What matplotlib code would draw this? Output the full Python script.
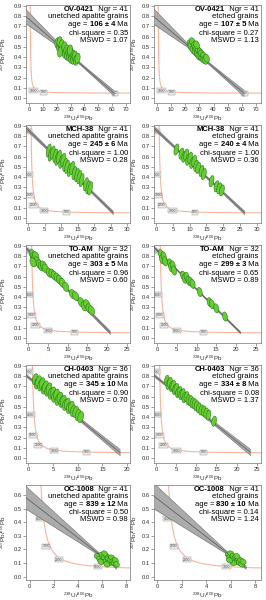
import numpy as np
import matplotlib
matplotlib.use("Agg")
import matplotlib.pyplot as plt
from matplotlib.ticker import FormatStrFormatter

plt.rcParams['font.family'] = ['Liberation Sans', 'DejaVu Sans']
plt.rcParams['mathtext.fontset'] = 'custom'
plt.rcParams['mathtext.rm'] = 'Liberation Sans'

# panel order: row by row, left = unetched, right = etched
samples = ['OV-0421', 'OV-0421', 'MCH-38', 'MCH-38', 'TO-AM', 'TO-AM',
           'CH-0403', 'CH-0403', 'OC-1008', 'OC-1008']
n_grains = [41, 41, 41, 41, 32, 32, 36, 36, 41, 41]
treatment = ['unetched apatite grains', 'etched grains'] * 5
ages = ['106 ± 4', '107 ± 5', '245 ± 6', '240 ± 4', '303 ± 5', '299 ± 3',
        '345 ± 10', '334 ± 8', '839 ± 12', '830 ± 10']
chi_square = ['0.35', '0.27', '1.00', '1.00', '0.96', '0.65', '0.90', '0.08', '0.50', '0.14']
mswd = ['1.07', '1.13', '0.28', '0.36', '0.60', '0.89', '0.70', '1.37', '0.98', '1.24']

# regression line: common Pb intercept at x=0 and lower end on the concordia
common_pb = [0.77, 0.77, 0.86, 0.86, 0.86, 0.86, 0.79, 0.79, 0.56, 0.575]
end_x = [61.5, 61.5, 25.8, 26.4, 20.8, 21.1, 18.6, 23.5, 7.2, 7.25]
end_y = [0.046, 0.046, 0.051, 0.051, 0.052, 0.052, 0.053, 0.055, 0.067, 0.066]
# confidence band half widths: at x=0, narrowest (at band_xc), at lower end
band_hw0 = [0.065, 0.07, 0.018, 0.016, 0.012, 0.008, 0.012, 0.012, 0.08, 0.09]
band_hmin = [0.008, 0.008, 0.012, 0.01, 0.01, 0.006, 0.01, 0.01, 0.005, 0.005]
band_xc = [28, 29, 12, 12, 6, 6, 5, 6, 6.3, 6.3]
band_hw1 = [0.025, 0.03, 0.016, 0.016, 0.016, 0.01, 0.03, 0.03, 0.012, 0.012]

# grain error ellipses (centres)
ell_x = [
    [20.5, 21.5, 22.0, 23.0, 23.5, 24.5, 22.5, 25.5, 26.0, 27.0, 27.5, 28.5, 29.0, 30.0, 30.5,
     31.5, 32.0, 33.0, 34.0, 35.0, 29.5],
    [23.5, 24.0, 25.0, 25.5, 26.5, 27.0, 27.5, 28.5, 29.0, 29.5, 30.5, 31.0, 31.5, 32.5, 33.0,
     34.0, 35.0, 28.0],
    [6.2, 6.8, 7.4, 8.2, 8.8, 9.3, 10.0, 10.6, 11.2, 11.8, 12.6, 13.3, 14.0, 14.8, 15.5, 16.2,
     17.5, 18.2, 18.8],
    [6.0, 7.5, 8.3, 8.9, 9.5, 10.1, 10.7, 11.3, 11.9, 12.5, 13.5, 14.2, 16.5, 18.0, 18.8, 19.6],
    [1.0, 1.3, 1.6, 1.9, 2.2, 1.2, 2.8, 3.3, 3.8, 4.3, 5.3, 6.0, 6.6, 7.3, 7.9, 8.6, 9.5, 11.2,
     12.0, 13.4, 14.2, 14.8, 15.4, 16.0],
    [1.0, 1.3, 1.7, 2.0, 3.3, 3.6, 4.0, 4.3, 6.6, 7.0, 7.5, 8.0, 8.5, 9.0, 10.8, 13.3, 13.9,
     15.0, 17.2],
    [1.4, 1.8, 2.1, 2.5, 2.8, 3.2, 3.5, 3.9, 4.2, 4.6, 5.0, 5.3, 5.7, 6.0, 6.4, 6.8, 7.1, 7.5,
     7.9, 8.3, 8.7, 9.1, 9.6, 10.1, 10.6],
    [2.6, 3.0, 3.4, 3.8, 4.2, 4.6, 5.0, 5.4, 5.8, 6.2, 6.6, 7.0, 7.5, 8.0, 8.5, 9.0, 9.5, 10.0,
     10.6, 11.2, 11.8, 12.4, 13.0, 14.4],
    [5.6, 5.8, 6.0, 6.1, 6.2, 6.3, 6.4, 6.5, 6.6, 6.7, 6.8, 6.9, 7.0, 7.1, 5.9, 6.4, 7.2, 6.2],
    [5.8, 5.9, 6.0, 6.1, 6.2, 6.3, 6.4, 6.5, 6.6, 6.7, 6.8, 6.9, 7.0, 6.2, 5.9, 6.5],
]
ell_y = [
    [0.54, 0.51, 0.55, 0.49, 0.52, 0.47, 0.45, 0.50, 0.44, 0.47, 0.42, 0.45, 0.41, 0.44, 0.39,
     0.42, 0.38, 0.41, 0.37, 0.39, 0.47],
    [0.53, 0.50, 0.55, 0.47, 0.51, 0.45, 0.49, 0.43, 0.47, 0.41, 0.45, 0.40, 0.43, 0.38, 0.41,
     0.37, 0.39, 0.52],
    [0.66, 0.62, 0.64, 0.61, 0.58, 0.60, 0.55, 0.57, 0.52, 0.50, 0.47, 0.49, 0.44, 0.42, 0.40,
     0.37, 0.33, 0.30, 0.29],
    [0.67, 0.63, 0.60, 0.62, 0.57, 0.59, 0.54, 0.56, 0.51, 0.49, 0.46, 0.43, 0.36, 0.31, 0.29, 0.27],
    [0.82, 0.79, 0.77, 0.80, 0.75, 0.74, 0.72, 0.70, 0.71, 0.68, 0.64, 0.63, 0.61, 0.59, 0.57,
     0.54, 0.50, 0.43, 0.41, 0.35, 0.31, 0.33, 0.29, 0.27],
    [0.82, 0.77, 0.80, 0.75, 0.73, 0.69, 0.71, 0.66, 0.61, 0.58, 0.60, 0.56, 0.55, 0.53, 0.45,
     0.35, 0.33, 0.29, 0.21],
    [0.77, 0.73, 0.75, 0.71, 0.73, 0.68, 0.70, 0.66, 0.68, 0.63, 0.64, 0.60, 0.62, 0.57, 0.59,
     0.55, 0.56, 0.52, 0.53, 0.49, 0.50, 0.46, 0.45, 0.42, 0.40],
    [0.76, 0.72, 0.74, 0.70, 0.71, 0.67, 0.68, 0.64, 0.65, 0.62, 0.63, 0.59, 0.60, 0.57, 0.56,
     0.54, 0.53, 0.51, 0.49, 0.47, 0.46, 0.44, 0.42, 0.36],
    [0.15, 0.13, 0.16, 0.12, 0.14, 0.11, 0.15, 0.13, 0.10, 0.12, 0.14, 0.11, 0.10, 0.12, 0.11,
     0.09, 0.09, 0.17],
    [0.16, 0.14, 0.17, 0.13, 0.15, 0.12, 0.14, 0.11, 0.13, 0.10, 0.12, 0.09, 0.11, 0.10, 0.12, 0.15],
]
# ellipse semi axes (x, y) and error correlation per panel
ell_sx = [1.9, 2.1, 0.75, 0.75, 0.8, 0.65, 0.6, 0.6, 0.25, 0.25]
ell_sy = [0.05, 0.04, 0.065, 0.055, 0.045, 0.045, 0.055, 0.05, 0.02, 0.02]
ell_rho = [0.2, -0.3, 0.5, 0.4, -0.3, -0.3, 0.3, 0.3, -0.2, -0.2]

# axes ranges and ticks
xlims = [(-2.2, 72.9), (-2.1, 73.5), (-0.7, 30.9), (-0.7, 31.3), (-0.6, 25.8),
         (-0.75, 26.3), (-0.47, 20.6), (-0.58, 26.1), (-0.3, 8.32), (-0.24, 8.46)]
ylim_main = (-0.049, 0.91)
ylim_oc = (-0.025, 0.674)
xticks = [[0, 10, 20, 30, 40, 50, 60, 70]] * 2 + [[0, 5, 10, 15, 20, 25, 30]] * 2 + \
         [[0, 5, 10, 15, 20, 25]] * 2 + [[0, 5, 10, 15, 20], [0, 5, 10, 15, 20, 25]] + \
         [[0, 2, 4, 6, 8]] * 2
yticks_main = [0.0, 0.1, 0.2, 0.3, 0.4, 0.5, 0.6, 0.7, 0.8, 0.9]
yticks_oc = [0.0, 0.1, 0.2, 0.3, 0.4, 0.5, 0.6]

# age ticks (Ma) labelled on the concordia
concordia_ages = [[1000, 500, 100]] * 2 + [[5000, 4000, 3000, 2000, 1000, 500]] * 6 + \
                 [[4000, 3000, 2000, 1000]] * 2

# Tera-Wasserburg concordia (reference curve from the decay constants)
L238 = 1.55125e-10
L235 = 9.8485e-10
U85 = 137.88


def tw_concordia(t_ma):
    t = np.asarray(t_ma, dtype=float) * 1e6
    e8 = np.exp(L238 * t) - 1
    e5 = np.exp(L235 * t) - 1
    return 1 / e8, e5 / (U85 * e8)


conc_t = np.geomspace(30, 6000, 3000)
conc_x, conc_y = tw_concordia(conc_t)

ell_face = '#66cc33'
ell_edge = '#1f6f12'
conc_color = '#f8b49b'

fig = plt.figure(figsize=(2.66, 6.0), dpi=100)
col_left = [26, 154]
col_w = [104, 107]
row_top = [5, 125, 245, 365, 485]
row_h = [98, 98, 98, 98, 95]

theta = np.linspace(0, 2 * np.pi, 60)

for i in range(10):
    r, c = i // 2, i % 2
    ax = fig.add_axes([col_left[c] / 266, 1 - (row_top[r] + row_h[r]) / 600,
                       col_w[c] / 266, row_h[r] / 600])
    ax.set_xlim(*xlims[i])
    if r < 4:
        ax.set_ylim(*ylim_main)
        ax.set_yticks(yticks_main)
    else:
        ax.set_ylim(*ylim_oc)
        ax.set_yticks(yticks_oc)
    ax.set_xticks(xticks[i])
    ax.yaxis.set_major_formatter(FormatStrFormatter('%.1f'))

    # concordia + age labels
    ax.plot(conc_x, conc_y, color=conc_color, lw=0.8, zorder=1)
    for a in concordia_ages[i]:
        mx, my = tw_concordia(a)
        ax.text(mx, my, str(a), fontsize=2.4, ha='right', va='center', color='#444444',
                clip_on=True, zorder=2,
                bbox=dict(boxstyle='square,pad=0.15', fc='#ececec', ec='#8a8a8a', lw=0.3))

    # regression line with confidence band
    x0 = xlims[i][0]
    xs = np.linspace(x0, end_x[i], 300)
    slope = (end_y[i] - common_pb[i]) / end_x[i]
    ys = common_pb[i] + slope * xs
    xc = band_xc[i]
    k_left = (band_hw0[i] ** 2 - band_hmin[i] ** 2) / xc ** 2
    k_right = (band_hw1[i] ** 2 - band_hmin[i] ** 2) / (end_x[i] - xc) ** 2
    kk = np.where(xs < xc, k_left, k_right)
    hw = np.sqrt(band_hmin[i] ** 2 + kk * (xs - xc) ** 2)
    ax.fill_between(xs, ys - hw, ys + hw, color='#ababab', lw=0, zorder=3)
    ax.plot(xs, ys - hw, color='#6e6e6e', lw=0.4, zorder=3)
    ax.plot(xs, ys + hw, color='#6e6e6e', lw=0.4, zorder=3)
    ax.plot(xs, ys, color='#555555', lw=0.5, zorder=3)

    # error ellipses
    sx, sy, rho = ell_sx[i], ell_sy[i], ell_rho[i]
    for cx, cy in zip(ell_x[i], ell_y[i]):
        px = cx + sx * np.cos(theta)
        py = cy + sy * (rho * np.cos(theta) + np.sqrt(1 - rho ** 2) * np.sin(theta))
        ax.fill(px, py, fc=ell_face, ec=ell_edge, lw=0.35, zorder=4)

    # frame and ticks
    for s in ax.spines.values():
        s.set_color('#8a8a8a')
        s.set_linewidth(0.6)
    ax.tick_params(direction='out', length=2, width=0.5, color='#777777',
                   labelsize=4.2, labelcolor='#333333', pad=1)
    ax.set_xlabel(r'$^{238}$U/$^{206}$Pb', fontsize=4.5, color='#333333', labelpad=1)
    ax.set_ylabel(r'$^{207}$Pb/$^{206}$Pb', fontsize=4.5, color='#333333')
    ax.yaxis.set_label_coords(-0.17 if c == 0 else -0.14, 0.5)

    # stats text block, right aligned
    fs = 5.5
    xr = 0.98
    line_y = [0.955, 0.878, 0.798, 0.714, 0.635]
    t1 = ax.text(xr, line_y[0], '  Ngr = %d' % n_grains[i], transform=ax.transAxes,
                 ha='right', va='center', fontsize=fs, zorder=6)
    ax.annotate(samples[i], xy=(0, 0.5), xycoords=t1, ha='right', va='center',
                fontsize=fs, fontweight='bold', zorder=6)
    ax.text(xr, line_y[1], treatment[i], transform=ax.transAxes,
            ha='right', va='center', fontsize=fs, zorder=6)
    t3 = ax.text(xr, line_y[2], ' Ma', transform=ax.transAxes,
                 ha='right', va='center', fontsize=fs, zorder=6)
    b3 = ax.annotate(ages[i], xy=(0, 0.5), xycoords=t3, ha='right', va='center',
                     fontsize=fs, fontweight='bold', zorder=6)
    ax.annotate('age = ', xy=(0, 0.5), xycoords=b3, ha='right', va='center',
                fontsize=fs, zorder=6)
    ax.text(xr, line_y[3], 'chi-square = ' + chi_square[i], transform=ax.transAxes,
            ha='right', va='center', fontsize=fs, zorder=6)
    ax.text(xr, line_y[4], 'MSWD = ' + mswd[i], transform=ax.transAxes,
            ha='right', va='center', fontsize=fs, zorder=6)

fig.savefig('out.png', dpi=100, facecolor='white')
